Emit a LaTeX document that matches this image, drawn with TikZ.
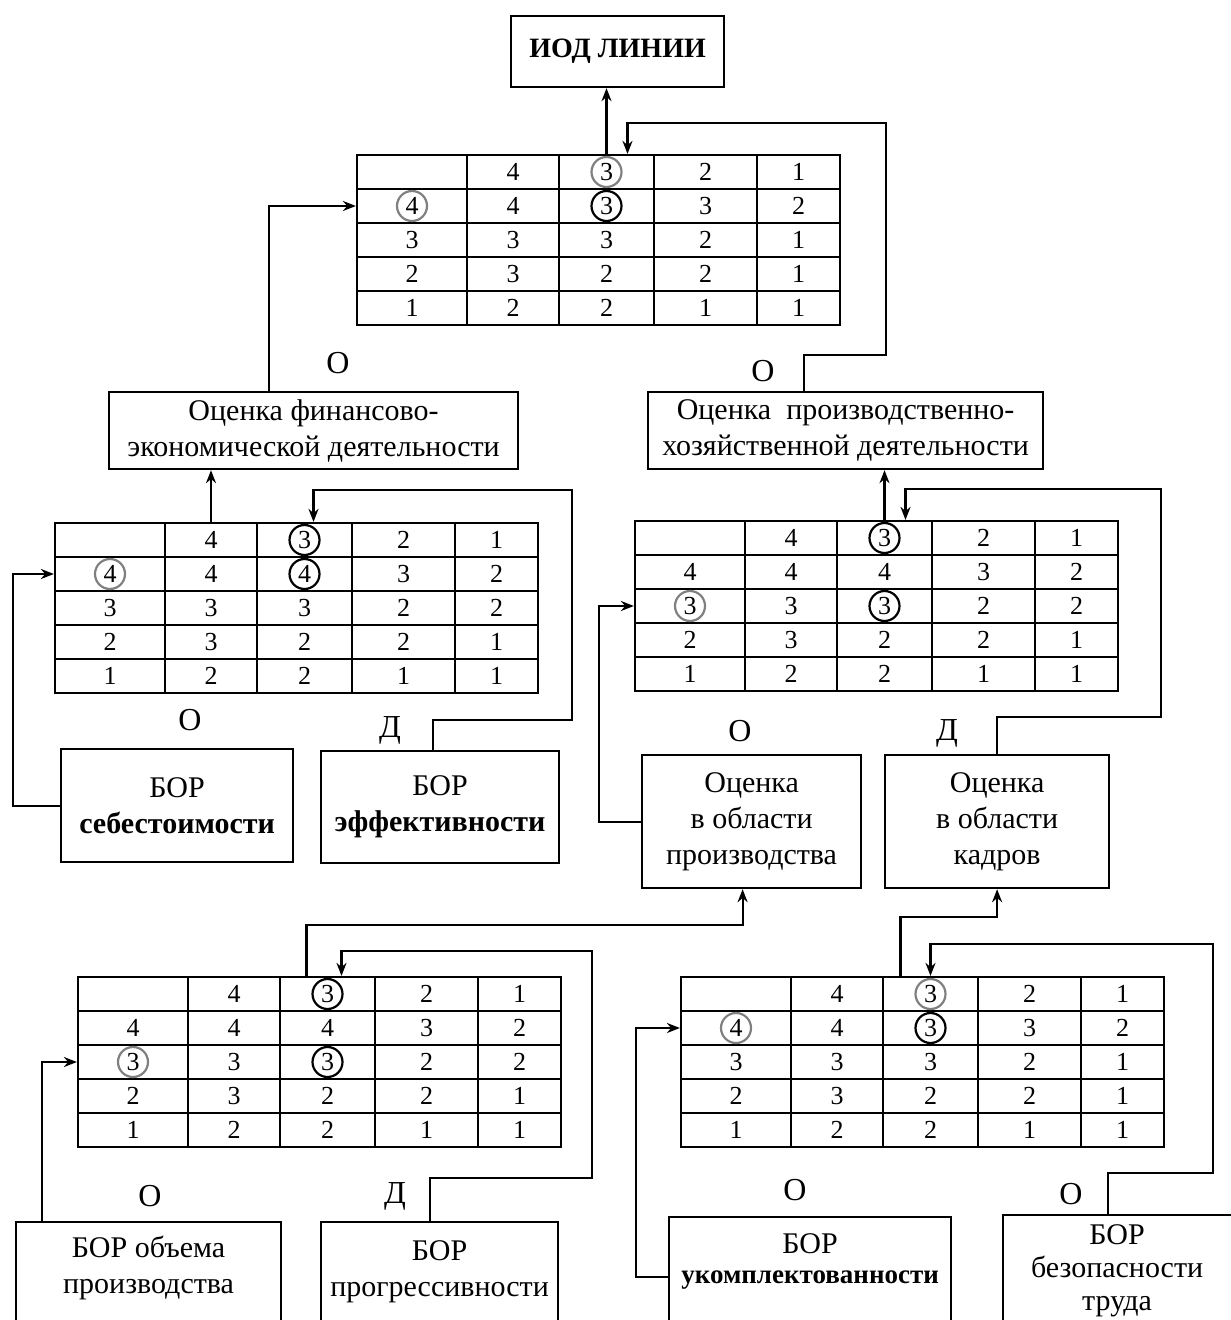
\documentclass[tikz,border=0pt]{standalone}
\usepackage{fontspec}
\setmainfont{Liberation Serif}
\usetikzlibrary{arrows.meta}
\usetikzlibrary{positioning}
\usetikzlibrary{calc}

% score table: name, left x, top y, rows (row/col0/col1/col2/col3/col4)
\newcommand{\scoretab}[4]{%
  \foreach \r/\va/\vb/\vc/\vd/\ve in {#4} {
    \foreach \cx/\w/\v [count=\k from 0] in {55/110/\va, 156/92/\vb, 249.5/95/\vc, 348.5/103/\vd, 441.5/83/\ve}
      \node[cell, minimum width=\w*0.5pt] (#1-\r-\k) at (#2+\cx, #3+17+34*\r) {\v};
  }
}

\begin{document}
\begin{tikzpicture}[x=0.5pt,y=-0.5pt,>={Stealth[length=6.5pt,width=5pt]},line width=1.1pt]
  \tikzset{box/.style = {draw, align=center, inner sep=0, anchor=north west, font=\fontsize{15}{18}\selectfont},
    boxtext/.style = {anchor=north, align=center, inner sep=0, font=\fontsize{15}{18}\selectfont},
    cell/.style = {draw, inner sep=0, minimum height=17pt, font=\fontsize{13}{15}\selectfont},
    tag/.style = {font=\fontsize{16}{18}\selectfont},
    ringgray/.style = {draw=black!50},
    ringblack/.style = {draw=black}}
  \useasboundingbox (0,0) rectangle (1230,1320);

  % boxes
  \node[box, font=\bfseries\fontsize{14}{18}\selectfont, minimum width=106.5pt, minimum height=35.5pt] (iod) at (510,15) {ИОД ЛИНИИ};
  \node[box, minimum width=204.5pt, minimum height=38.5pt] (fe) at (108,391) {Оценка финансово-\\экономической деятельности};
  \node[box, minimum width=197.5pt, minimum height=38.5pt] (ph) at (647,391) {Оценка\ \ производственно-\\хозяйственной деятельности};
  \node[box, minimum width=116pt, minimum height=56.5pt] (bs) at (60,748) {БОР\\\textbf{себестоимости}};
  \node[box, minimum width=119pt, minimum height=56pt] (be) at (320,750) {БОР\\\textbf{эффективности}};
  \node[box, minimum width=109.5pt, minimum height=66.5pt] (op) at (641,754) {Оценка\\в области\\производства};
  \node[box, minimum width=112pt, minimum height=66.5pt] (ok) at (884,754) {Оценка\\в области\\кадров};
  \node[box, minimum width=132.5pt, minimum height=60pt] (bo) at (15,1221) {};
  \node[box, minimum width=118.5pt, minimum height=60pt] (bp) at (320,1221) {};
  \node[box, minimum width=141pt, minimum height=60pt] (bu) at (668,1216) {};
  \node[box, minimum width=120pt, minimum height=60pt] (bb) at (1002,1214) {};
  \node[boxtext] (bo-t) at ($(bo.north)+(0,14)$) {БОР объема\\производства};
  \node[boxtext] (bp-t) at ($(bp.north)+(0,19)$) {БОР\\прогрессивности};
  \node[boxtext, font=\fontsize{15}{15}\selectfont] (bu-t) at ($(bu.north)+(0,17)$) {БОР\\\textbf{\fontsize{13.5}{15}\selectfont укомплектованности}};
  \node[boxtext, font=\fontsize{15}{16.5}\selectfont] (bb-t) at ($(bb.north)+(-6,10)$) {БОР\\безопасности\\труда};

  % tables
  \scoretab{T0}{357}{155}{0/{}/4/3/2/1, 1/4/4/3/3/2, 2/3/3/3/2/1, 3/2/3/2/2/1, 4/1/2/2/1/1}
  \scoretab{T1}{55}{523}{0/{}/4/3/2/1, 1/4/4/4/3/2, 2/3/3/3/2/2, 3/2/3/2/2/1, 4/1/2/2/1/1}
  \scoretab{T2}{635}{521}{0/{}/4/3/2/1, 1/4/4/4/3/2, 2/3/3/3/2/2, 3/2/3/2/2/1, 4/1/2/2/1/1}
  \scoretab{T3}{78}{977}{0/{}/4/3/2/1, 1/4/4/4/3/2, 2/3/3/3/2/2, 3/2/3/2/2/1, 4/1/2/2/1/1}
  \scoretab{T4}{681}{977}{0/{}/4/3/2/1, 1/4/4/3/3/2, 2/3/3/3/2/1, 3/2/3/2/2/1, 4/1/2/2/1/1}

  % rings
  \draw[ringgray] (T0-0-2) circle[radius=7.5pt];
  \draw[ringgray] (T0-1-0) circle[radius=7.5pt];
  \draw[ringblack] (T0-1-2) circle[radius=7.5pt];
  \draw[ringblack] (T1-0-2) circle[radius=7.5pt];
  \draw[ringgray] (T1-1-0) circle[radius=7.5pt];
  \draw[ringblack] (T1-1-2) circle[radius=7.5pt];
  \draw[ringblack] (T2-0-2) circle[radius=7.5pt];
  \draw[ringgray] (T2-2-0) circle[radius=7.5pt];
  \draw[ringblack] (T2-2-2) circle[radius=7.5pt];
  \draw[ringblack] (T3-0-2) circle[radius=7.5pt];
  \draw[ringgray] (T3-2-0) circle[radius=7.5pt];
  \draw[ringblack] (T3-2-2) circle[radius=7.5pt];
  \draw[ringgray] (T4-0-2) circle[radius=7.5pt];
  \draw[ringgray] (T4-1-0) circle[radius=7.5pt];
  \draw[ringblack] (T4-1-2) circle[radius=7.5pt];

  % tags
  \node[tag] (o1) at (338,363) {О};
  \node[tag] (o2) at (763,371) {О};
  \node[tag] (o3) at (190,720) {О};
  \node[tag] (d1) at (390,730) {Д};
  \node[tag] (o4) at (740,731) {О};
  \node[tag] (d2) at (947,733) {Д};
  \node[tag] (o5) at (150,1196) {О};
  \node[tag] (d3) at (395,1196) {Д};
  \node[tag] (o6) at (795,1190) {О};
  \node[tag] (o7) at (1071,1194) {О};

  % connectors
  \draw[->] (T0-0-2.north) -- (T0-0-2.north |- iod.south);
  \draw[->] ($(ph.north)+(-42,0)$) -- ++(0,-36) -| (886,123) -| ($(T0-0-2.north)+(21,0)$);
  \draw[->] ($(fe.north)+(-45,0)$) |- (T0-1-0.west);

  \draw[->] (T1-0-1.north) -- (T1-0-1.north |- fe.south);
  \draw[->] ($(be.north)+(-7,0)$) -- ++(0,-30) -| (572,490) -| ($(T1-0-2.north)+(9,0)$);
  \draw[->] (bs.west) -- ++(-47,0) |- (T1-1-0.west);

  \draw[->] (T2-0-2.north) -- (T2-0-2.north |- ph.south);
  \draw[->] (ok.north) -- ++(0,-37) -| (1161,489) -| ($(T2-0-2.north)+(21,0)$);
  \draw[->] (op.west) -- ++(-42,0) |- (T2-2-0.west);

  \draw[->] ($(T3-0-2.north)+(-21,0)$) -- ++(0,-51) -| ($(op.south)+(-9,0)$);
  \draw[->] ($(bp.north)+(-10,0)$) -- ++(0,-43) -| (592,951) -| ($(T3-0-2.north)+(14,0)$);
  \draw[->] ($(bo.north west)+(27,0)$) |- (T3-2-0.west);

  \draw[->] ($(T4-0-2.north)+(-30,0)$) -- ++(0,-59) -| (ok.south);
  \draw[->] ($(bb.north west)+(106,0)$) -- ++(0,-41) -| (1213,944) -| (T4-0-2.north);
  \draw[->] (bu.west) -- ++(-32,0) |- (T4-1-0.west);
\end{tikzpicture}
\end{document}
